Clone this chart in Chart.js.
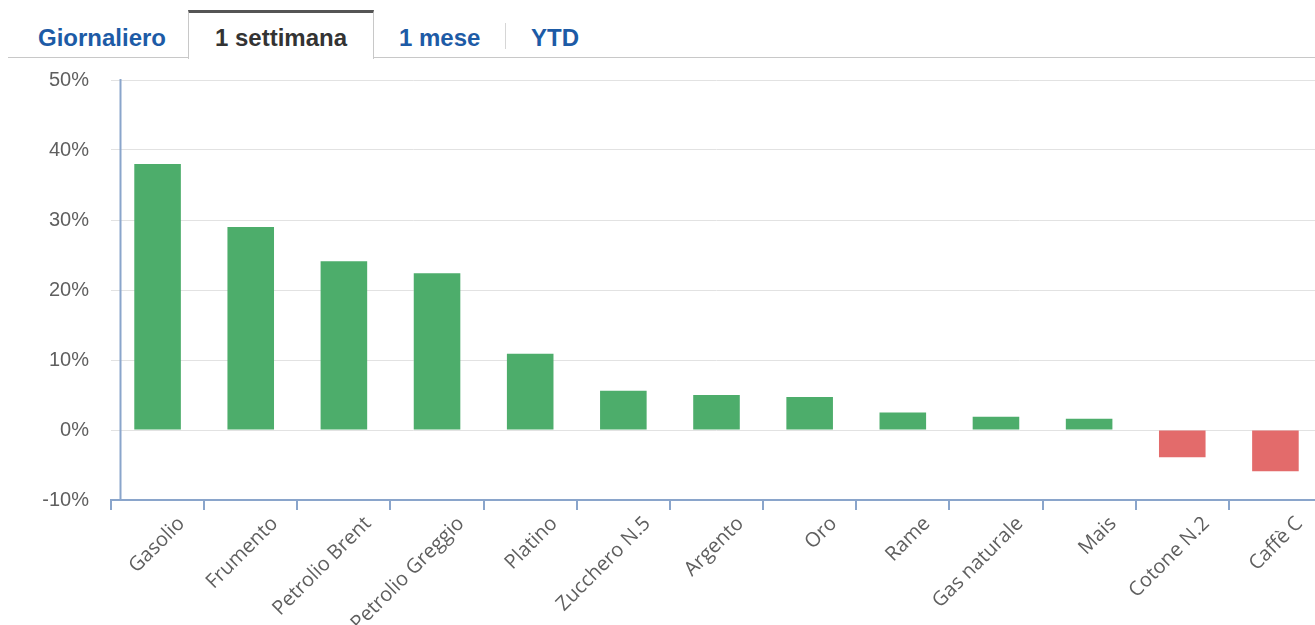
<!DOCTYPE html>
<html lang="it">
<head>
<meta charset="utf-8">
<title>Materie prime - 1 settimana</title>
<script src="https://cdn.jsdelivr.net/npm/chart.js@4/dist/chart.umd.min.js"></script>
<style>
    html, body { margin: 0; padding: 0; background: #fff; }
    body { width: 1315px; height: 625px; overflow: hidden; position: relative; }
    .tabs { position: absolute; left: 0; top: 0; width: 1315px; height: 60px; }
    .tabs .baseline { position: absolute; left: 8px; right: 0; top: 57px; height: 1px; background: #c8c8c8; }
    .tabs .active-box {
        position: absolute; left: 188px; top: 10px; width: 184px; height: 46px;
        border-top: 3px solid #555; border-left: 1px solid #c8c8c8; border-right: 1px solid #c8c8c8;
        background: #fff;
    }
    .tabs .sep { position: absolute; left: 505px; top: 23px; width: 1px; height: 26px; background: #d6d6d6; }
    .tabs span {
        position: absolute; top: 24px; line-height: 23px;
        font: bold 24px "Liberation Sans", Arial, sans-serif; color: #1d5ba6; white-space: nowrap;
    }
    .tabs span.on { color: #333; }
    .chart-box { position: absolute; left: 0; top: 60px; width: 1330px; height: 565px; }
</style>
</head>
<body>
<div class="tabs" id="tabs">
    <div class="baseline"></div>
    <div class="active-box"></div>
    <div class="sep"></div>
</div>
<div class="chart-box"><canvas id="chart"></canvas></div>

<script>
'use strict';

// tab bar
const TAB_LABELS = ['Giornaliero', '1 settimana', '1 mese', 'YTD'];
const TAB_LEFT = [38, 215, 399, 531];
const ACTIVE_TAB = 1;

// weekly change, %
const categories = [
    'Gasolio', 'Frumento', 'Petrolio Brent', 'Petrolio Greggio', 'Platino',
    'Zucchero N.5', 'Argento', 'Oro', 'Rame', 'Gas naturale', 'Mais',
    'Cotone N.2', 'Caffè C'
];
const changes = [38.0, 29.0, 24.1, 22.4, 10.9, 5.6, 5.0, 4.7, 2.5, 1.9, 1.6, -3.9, -5.9];

const Y_MIN = -10;
const Y_MAX = 50;
const Y_STEP = 10;

const COLORS = {
    up: '#4dad6b',
    down: '#e36b6b',
    axis: '#8aa5cb',
    grid: '#e2e2e2',
    tick: '#5f5f5f',
};

const tabs = document.getElementById('tabs');
TAB_LABELS.forEach((txt, i) => {
    const s = document.createElement('span');
    s.textContent = txt;
    s.style.left = TAB_LEFT[i] + 'px';
    if (i === ACTIVE_TAB) s.className = 'on';
    tabs.appendChild(s);
});

// vertical y axis line sits a little inside the plot's left edge
const yAxisLine = {
    id: 'yAxisLine',
    afterDraw(chart) {
        const { ctx, chartArea } = chart;
        const x = chartArea.left + 9.5;
        ctx.save();
        ctx.strokeStyle = COLORS.axis;
        ctx.lineWidth = 2;
        ctx.beginPath();
        ctx.moveTo(x, chartArea.top - 1);
        ctx.lineTo(x, chartArea.bottom);
        ctx.stroke();
        ctx.restore();
    }
};

new Chart(document.getElementById('chart'), {
    type: 'bar',
    data: {
        labels: categories,
        datasets: [{
            data: changes,
            backgroundColor: changes.map(v => v >= 0 ? COLORS.up : COLORS.down),
            borderWidth: 0,
            categoryPercentage: 1,
            barPercentage: 0.5,
        }]
    },
    options: {
        responsive: true,
        maintainAspectRatio: false,
        animation: false,
        layout: { padding: { top: 20, right: 8, left: 0, bottom: 0 } },
        plugins: {
            legend: { display: false },
            tooltip: { enabled: false },
        },
        scales: {
            x: {
                border: { color: COLORS.axis, width: 2 },
                grid: {
                    offset: true,
                    drawOnChartArea: false,
                    drawTicks: true,
                    tickLength: 10,
                    color: COLORS.axis,
                    lineWidth: 2,
                },
                ticks: {
                    autoSkip: false,
                    minRotation: 45,
                    maxRotation: 45,
                    padding: 2,
                    labelOffset: 24,
                    color: COLORS.tick,
                    font: { family: '"Open Sans", sans-serif', size: 20 },
                },
                afterFit: s => { s.height = 125; }
            },
            y: {
                min: Y_MIN,
                max: Y_MAX,
                border: { display: false },
                grid: { color: COLORS.grid, drawTicks: false, lineWidth: 1 },
                ticks: {
                    stepSize: Y_STEP,
                    padding: 22,
                    color: COLORS.tick,
                    font: { family: '"Liberation Sans", Arial, sans-serif', size: 20 },
                    callback: v => v + '%'
                },
                afterFit: s => { s.width = 111; s.paddingTop = 0; }
            }
        }
    },
    plugins: [yAxisLine]
});
</script>
</body>
</html>
